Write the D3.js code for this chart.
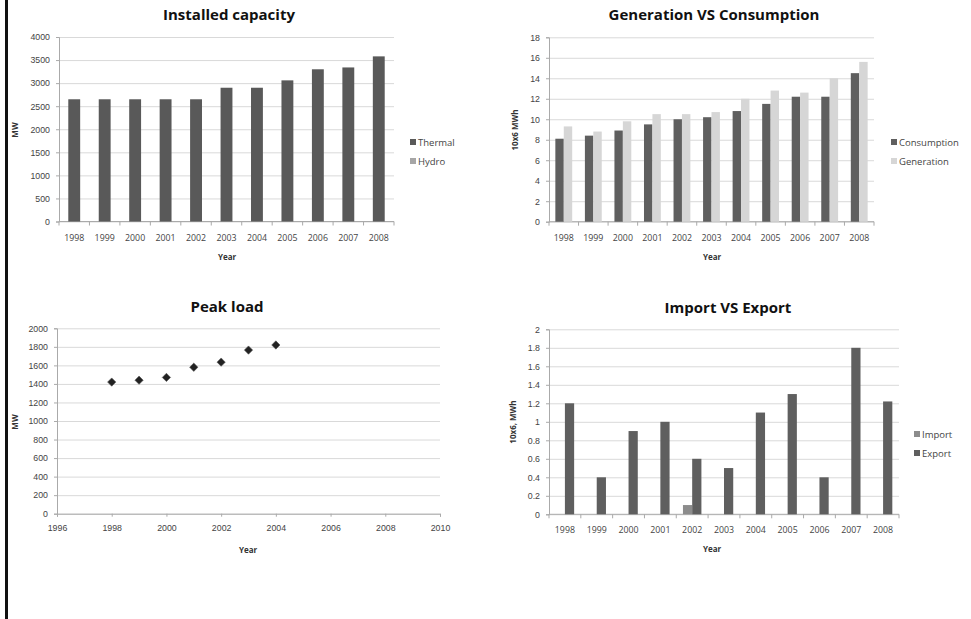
<!DOCTYPE html>
<html>
<head>
<meta charset="utf-8">
<script src="https://cdn.jsdelivr.net/npm/d3@7/dist/d3.min.js"></script>
<style>
  body { margin: 0; background: #fff; }
  svg { display: block; font-family: "Open Sans", "DejaVu Sans", sans-serif; }
  .tick text { fill: #444; font-size: 8.8px; }
  .domain { stroke: #aaa; }
  .tick line { stroke: #aaa; }
  .grid line { stroke: #d9d9d9; }
  .grid .domain { display: none; }
  .title { font-weight: bold; font-size: 15px; fill: #111; }
  .axlabel { font-weight: bold; font-size: 8px; fill: #333; }
  .legend text { font-size: 9.5px; fill: #444; }
</style>
</head>
<body>
<script>
// years on the category axes
var years = ["1998", "1999", "2000", "2001", "2002", "2003", "2004", "2005", "2006", "2007", "2008"];

// installed capacity (MW)
var thermal = [2650, 2650, 2650, 2650, 2650, 2900, 2900, 3060, 3300, 3340, 3580];
var hydro = [0, 0, 0, 0, 0, 0, 0, 0, 0, 0, 0];

// generation vs consumption (10x6 MWh)
var consumption = [8.1, 8.4, 8.9, 9.5, 10.0, 10.2, 10.8, 11.5, 12.2, 12.2, 14.5];
var generation = [9.3, 8.8, 9.8, 10.5, 10.5, 10.7, 12.0, 12.8, 12.6, 14.0, 15.6];

// peak load (MW)
var peakYears = [1998, 1999, 2000, 2001, 2002, 2003, 2004];
var peakLoad = [1420, 1440, 1470, 1580, 1635, 1765, 1820];

// import vs export (10x6 MWh)
var importVals = [0, 0, 0, 0, 0.1, 0, 0, 0, 0, 0, 0];
var exportVals = [1.2, 0.4, 0.9, 1.0, 0.6, 0.5, 1.1, 1.3, 0.4, 1.8, 1.22];

var svg = d3.select("body").append("svg")
  .attr("width", 971)
  .attr("height", 619);

// black line on the left edge
svg.append("rect")
  .attr("x", 5).attr("y", 0)
  .attr("width", 3).attr("height", 619)
  .attr("fill", "#111");

// shared pieces: title, gridlines, y axis, y label, Year label
function frame(g, opt, yScale) {
  g.append("g")
    .attr("class", "grid")
    .attr("transform", "translate(" + opt.left + ",0)")
    .call(d3.axisLeft(yScale).tickValues(opt.yTicks).tickSize(-(opt.right - opt.left)).tickFormat(""));

  g.append("g")
    .attr("class", "y axis")
    .attr("transform", "translate(" + opt.left + ",0)")
    .call(d3.axisLeft(yScale).tickValues(opt.yTicks).tickSize(3).tickPadding(6).tickFormat(opt.yFormat));

  g.append("text")
    .attr("class", "title")
    .attr("x", opt.titleX)
    .attr("y", opt.titleY)
    .attr("text-anchor", "middle")
    .text(opt.title);

  g.append("text")
    .attr("class", "axlabel")
    .attr("transform", "translate(" + opt.yLabelX + "," + opt.yLabelY + ") rotate(-90)")
    .attr("text-anchor", "middle")
    .text(opt.yLabel);

  g.append("text")
    .attr("class", "axlabel")
    .attr("x", opt.xLabelX)
    .attr("y", opt.xLabelY)
    .attr("text-anchor", "middle")
    .text("Year");
}

function legend(g, x, y, items) {
  var lg = g.append("g").attr("class", "legend");
  items.forEach(function(it, i) {
    lg.append("rect")
      .attr("x", x).attr("y", y + i * 19 - 3)
      .attr("width", 6).attr("height", 6)
      .attr("fill", it.color);
    lg.append("text")
      .attr("x", x + 8).attr("y", y + i * 19 + 3.5)
      .text(it.name);
  });
}

// grouped (or stacked) bar chart over the years
function barChart(opt) {
  var g = svg.append("g");

  var x = d3.scaleBand().domain(years).range([opt.left, opt.right]);
  var y = d3.scaleLinear().domain(opt.yDomain).range([opt.bottom, opt.top]);

  frame(g, opt, y);

  // x axis with ticks between categories
  var xa = g.append("g")
    .attr("class", "x axis")
    .attr("transform", "translate(0," + opt.bottom + ")");
  xa.append("line")
    .attr("class", "domain")
    .attr("x1", opt.left).attr("x2", opt.right)
    .attr("stroke", "#aaa");
  xa.selectAll("line.sep")
    .data(d3.range(years.length + 1))
    .enter().append("line")
    .attr("class", "sep")
    .attr("x1", function(i) { return opt.left + i * x.bandwidth(); })
    .attr("x2", function(i) { return opt.left + i * x.bandwidth(); })
    .attr("y1", 0).attr("y2", 4)
    .attr("stroke", "#aaa");
  xa.selectAll("text")
    .data(years)
    .enter().append("text")
    .attr("x", function(d) { return x(d) + x.bandwidth() / 2; })
    .attr("y", 19)
    .attr("text-anchor", "middle")
    .attr("fill", "#444")
    .style("font-size", "8.8px")
    .text(function(d) { return d; });

  var groupW = x.bandwidth() * opt.groupFrac;
  var sub = d3.scaleBand().domain(opt.series.map(function(s) { return s.name; })).range([0, groupW]);

  opt.series.forEach(function(s, si) {
    g.selectAll(null)
      .data(s.values)
      .enter().append("rect")
      .attr("x", function(d, i) {
        var base = x(years[i]) + (x.bandwidth() - groupW) / 2;
        return opt.stacked ? base : base + sub(s.name);
      })
      .attr("width", opt.stacked ? groupW : sub.bandwidth())
      .attr("y", function(d, i) {
        var below = opt.stacked ? d3.sum(opt.series.slice(0, si), function(t) { return t.values[i]; }) : 0;
        return y(below + d);
      })
      .attr("height", function(d) { return y(0) - y(d); })
      .attr("fill", s.color);
  });

  legend(g, opt.legendX, opt.legendY, opt.series);
}

// Installed capacity
barChart({
  title: "Installed capacity", titleX: 229, titleY: 20,
  left: 59, right: 394, top: 37, bottom: 221.5,
  yDomain: [0, 4000], yTicks: d3.range(0, 4001, 500), yFormat: d3.format("d"),
  yLabel: "MW", yLabelX: 18, yLabelY: 130,
  xLabelX: 227, xLabelY: 260,
  groupFrac: 0.39, stacked: true,
  series: [{name: "Thermal", values: thermal, color: "#595959"},
           {name: "Hydro", values: hydro, color: "#a6a6a6"}],
  legendX: 410, legendY: 142
});

// Generation VS Consumption
barChart({
  title: "Generation VS Consumption", titleX: 714, titleY: 20,
  left: 549, right: 874, top: 37.3, bottom: 221.7,
  yDomain: [0, 18], yTicks: d3.range(0, 19, 2), yFormat: d3.format("d"),
  yLabel: "10x6 MWh", yLabelX: 518, yLabelY: 130,
  xLabelX: 712, xLabelY: 260,
  groupFrac: 0.57, stacked: false,
  series: [{name: "Consumption", values: consumption, color: "#5f5f5f"},
           {name: "Generation", values: generation, color: "#d6d6d6"}],
  legendX: 891, legendY: 142
});

// Import VS Export
barChart({
  title: "Import VS Export", titleX: 728, titleY: 313,
  left: 549, right: 899, top: 329.3, bottom: 514.3,
  yDomain: [0, 2], yTicks: d3.range(0, 11).map(function(i) { return i * 0.2; }), yFormat: function(d) { return d3.format("~g")(+d.toFixed(1)); },
  yLabel: "10x6, MWh", yLabelX: 516, yLabelY: 422,
  xLabelX: 712, xLabelY: 552,
  groupFrac: 0.58, stacked: false,
  series: [{name: "Import", values: importVals, color: "#8c8c8c"},
           {name: "Export", values: exportVals, color: "#5f5f5f"}],
  legendX: 914, legendY: 434
});

// Peak load (scatter)
(function() {
  var opt = {
    title: "Peak load", titleX: 227, titleY: 312,
    left: 57, right: 440, top: 328.3, bottom: 513.7,
    yTicks: d3.range(0, 2001, 200), yFormat: d3.format("d"),
    yLabel: "MW", yLabelX: 18, yLabelY: 422,
    xLabelX: 248, xLabelY: 553
  };
  var g = svg.append("g");
  var x = d3.scaleLinear().domain([1996, 2010]).range([opt.left, opt.right]);
  var y = d3.scaleLinear().domain([0, 2000]).range([opt.bottom, opt.top]);

  frame(g, opt, y);

  g.append("g")
    .attr("class", "x axis")
    .attr("transform", "translate(0," + opt.bottom + ")")
    .call(d3.axisBottom(x).tickValues(d3.range(1996, 2011, 2)).tickSize(3).tickPadding(8).tickSizeOuter(3).tickFormat(d3.format("d")));

  var diamond = d3.symbol().type(d3.symbolDiamond2).size(44);
  g.selectAll("path.pt")
    .data(peakLoad)
    .enter().append("path")
    .attr("class", "pt")
    .attr("d", diamond)
    .attr("transform", function(d, i) { return "translate(" + x(peakYears[i]) + "," + y(d) + ")"; })
    .attr("fill", "#222")
    .attr("stroke", "#555")
    .attr("stroke-width", 0.6);
})();
</script>
</body>
</html>
